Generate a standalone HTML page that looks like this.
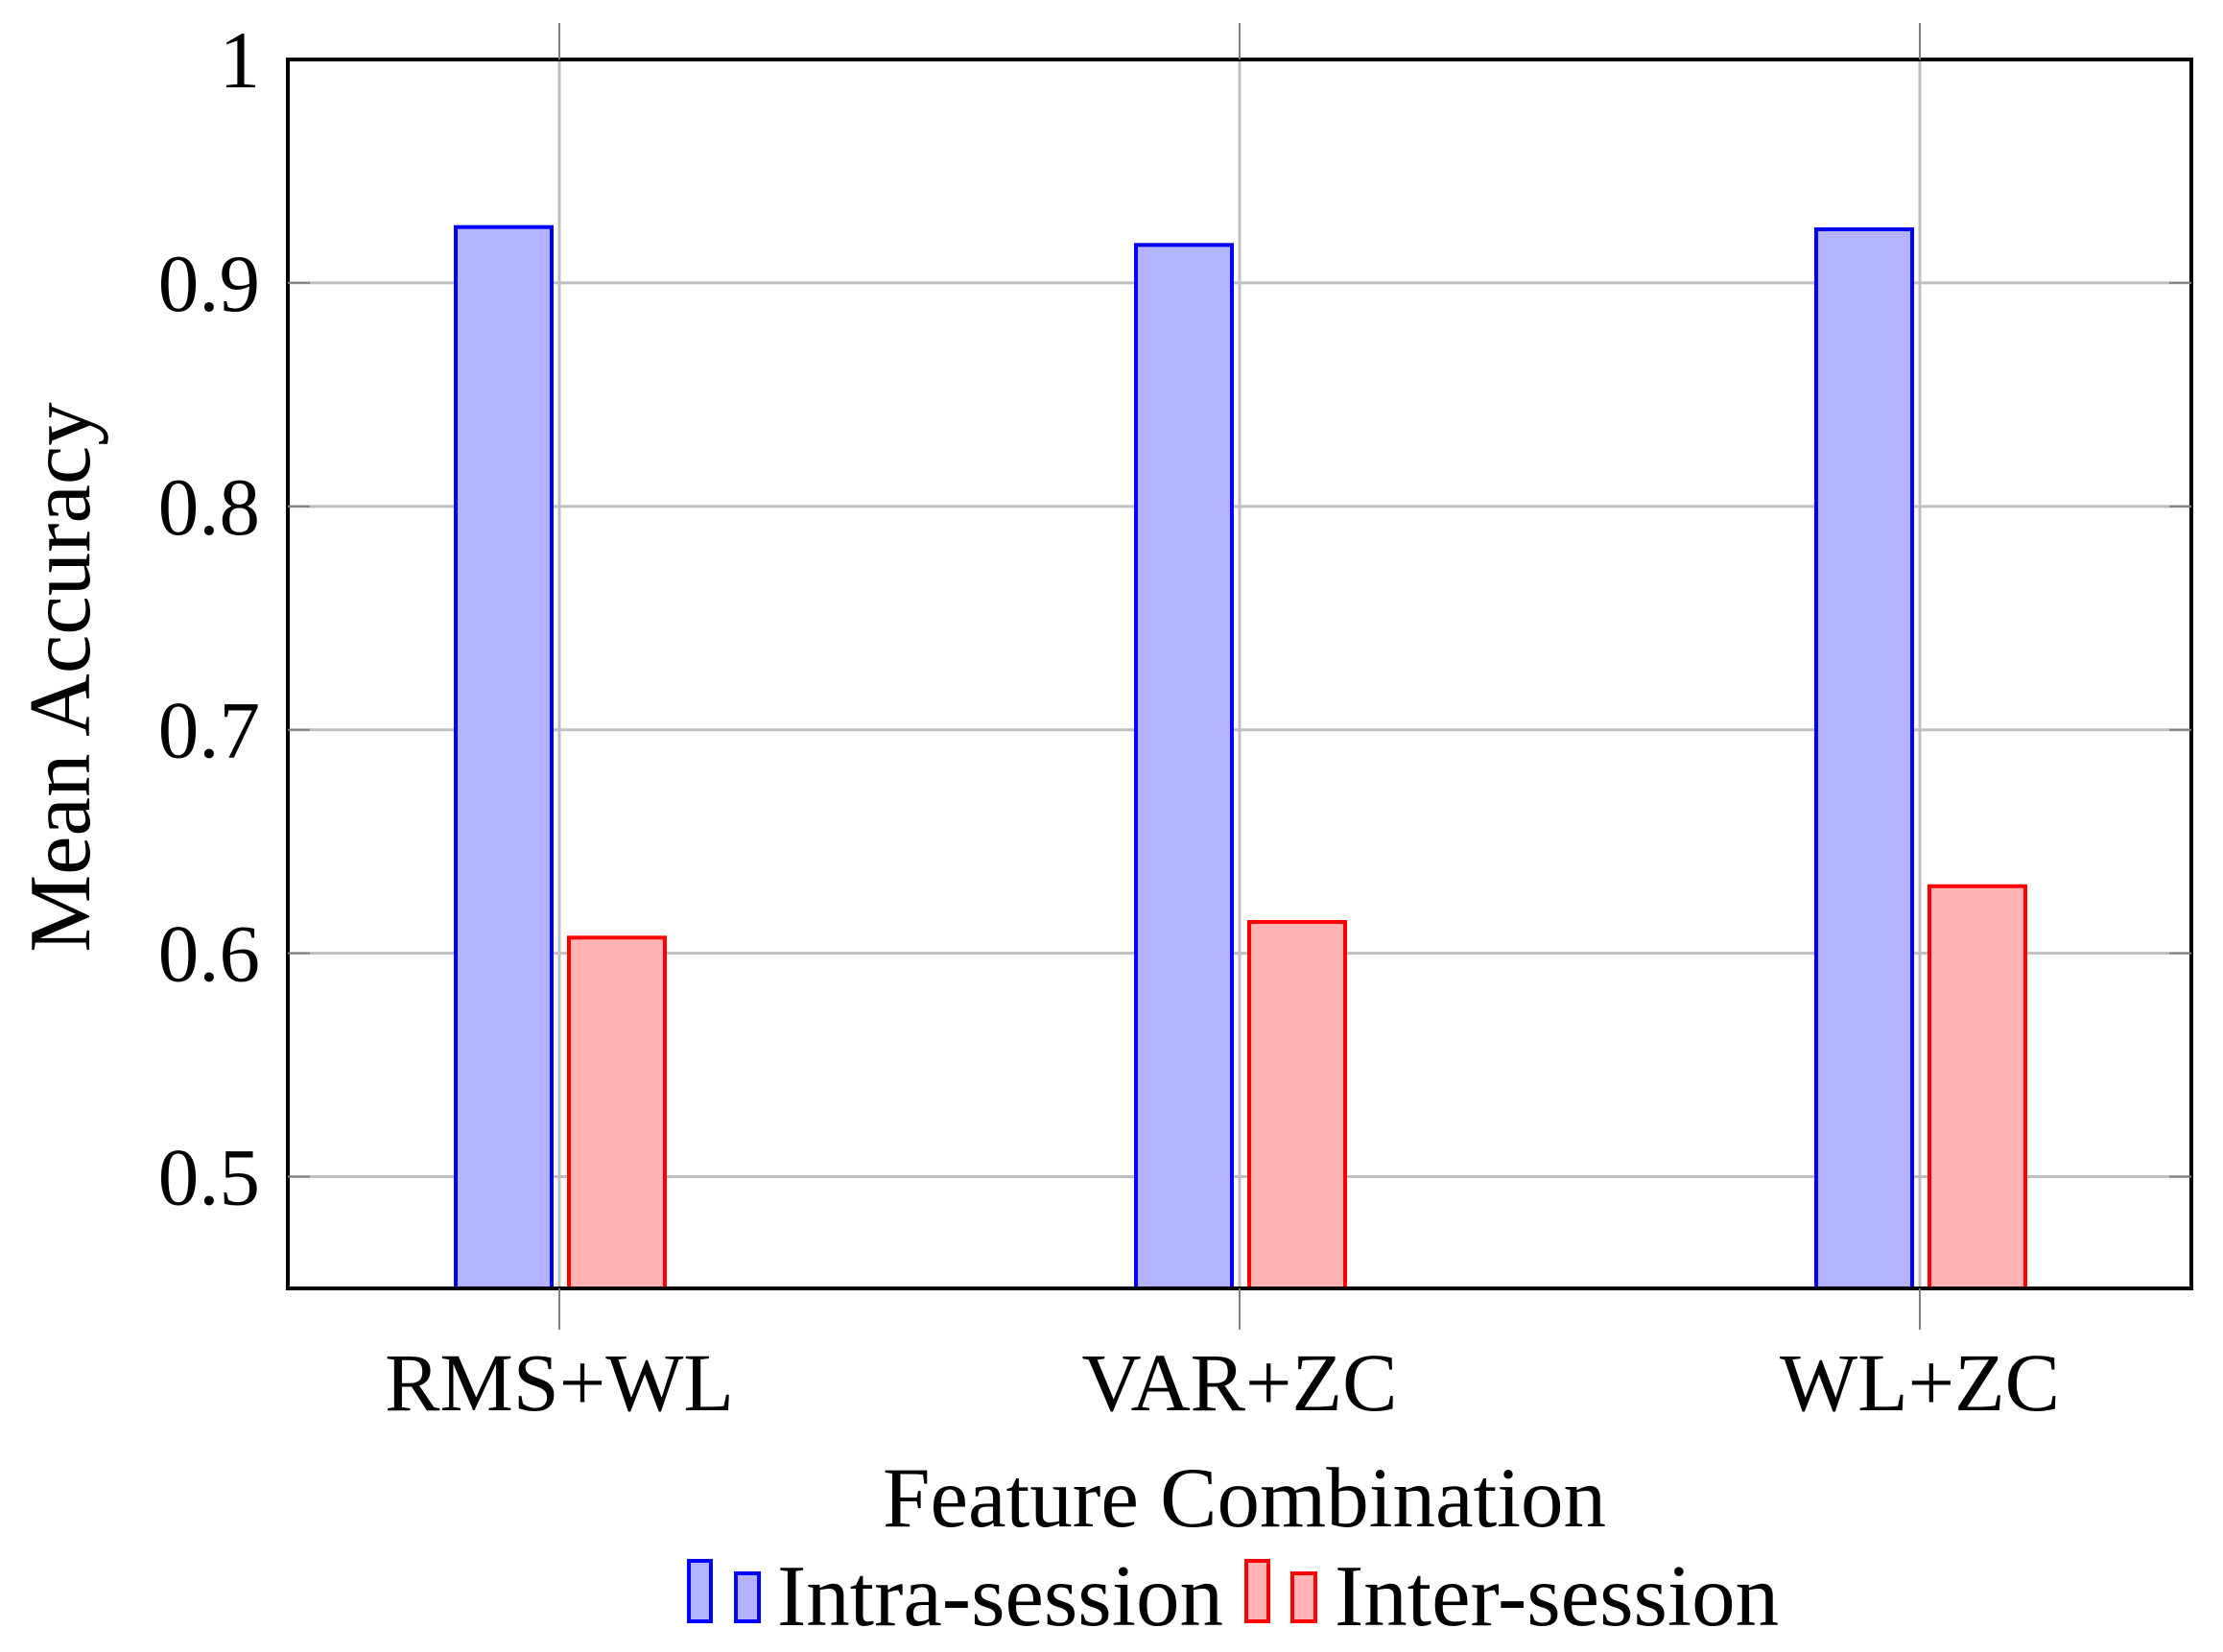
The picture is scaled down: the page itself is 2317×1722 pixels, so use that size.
<!DOCTYPE html>
<html><head><meta charset="utf-8"><style>
html,body{margin:0;padding:0;background:#fff}
svg text{font-family:"Liberation Serif",serif;fill:#000}
</style></head><body>
<svg id="chart" width="2317" height="1717" xmlns="http://www.w3.org/2000/svg">
<g id="grid"></g>
<g id="bars"></g>
<rect x="300" y="62" width="1984" height="1281" fill="none" stroke="#000" stroke-width="4"/>
<g id="yticks"></g>
<g id="xticks"></g>
<text transform="translate(93,706) rotate(-90)" text-anchor="middle" font-size="91">Mean Accuracy</text>
<text x="1297" y="1591" text-anchor="middle" font-size="89">Feature Combination</text>
<g>
<g>
<rect x="718" y="1627" width="23" height="63" fill="#b3b3ff" stroke="#00f" stroke-width="4"/>
<rect x="767" y="1640" width="24" height="50" fill="#b3b3ff" stroke="#00f" stroke-width="4"/>
<text x="810" y="1694" font-size="91">Intra-session</text>
</g>
<g>
<rect x="1299" y="1627" width="23" height="63" fill="#ffb3b3" stroke="#f00" stroke-width="4"/>
<rect x="1347" y="1640" width="24" height="50" fill="#ffb3b3" stroke="#f00" stroke-width="4"/>
<text x="1391" y="1694" font-size="91">Inter-session</text>
</g>
</g>
</svg>
<script>
const categories = ["RMS+WL", "VAR+ZC", "WL+ZC"];
const intraValues = [0.925, 0.917, 0.924];
const interValues = [0.607, 0.614, 0.630];
const yTicks = [0.5, 0.6, 0.7, 0.8, 0.9, 1];
const yTickLabels = ["0.5", "0.6", "0.7", "0.8", "0.9", "1"];

const NS = "http://www.w3.org/2000/svg";
const L = 300, R = 2284, T = 62, B = 1343, yMin = 0.45, yMax = 1;
function yS(v){ return B - (v - yMin) / (yMax - yMin) * (B - T); }
function xS(i){ return 583 + i * 709; }
function mk(tag, attrs, parent){ const e = document.createElementNS(NS, tag); for (const k in attrs) e.setAttribute(k, attrs[k]); parent.appendChild(e); return e; }
const grid = document.getElementById('grid'), bars = document.getElementById('bars');
const yt = document.getElementById('yticks'), xt = document.getElementById('xticks');

yTicks.forEach((v, i) => {
  const y = yS(v);
  if (v < 1) {
    const g = mk('line', {x1: L, x2: R, y1: y, y2: y, stroke: '#bfbfbf', 'stroke-width': 3}, grid);
    
    
    mk('line', {x1: L, x2: L + 23, y1: y, y2: y, stroke: '#808080', 'stroke-width': 2}, yt);
    mk('line', {x1: R - 23, x2: R, y1: y, y2: y, stroke: '#808080', 'stroke-width': 2}, yt);
  }
  const t = mk('text', {x: 271, y: y + 29, 'text-anchor': 'end', 'font-size': 85}, yt);
  t.textContent = yTickLabels[i];
  
  
});

categories.forEach((c, i) => {
  const x = xS(i);
  const g = mk('line', {x1: x, x2: x, y1: T, y2: B, stroke: '#bfbfbf', 'stroke-width': 3}, grid);
  
  
  mk('line', {x1: x, x2: x, y1: 24, y2: T, stroke: '#808080', 'stroke-width': 2}, xt);
  mk('line', {x1: x, x2: x, y1: B, y2: 1386, stroke: '#808080', 'stroke-width': 2}, xt);
  const t = mk('text', {x: x, y: 1470, 'text-anchor': 'middle', 'font-size': 86}, xt);
  t.textContent = c;
  
  

  const y1 = yS(intraValues[i]);
  const b1 = mk('rect', {x: x - 108, y: y1, width: 100, height: B - y1, fill: '#b3b3ff', stroke: '#00f', 'stroke-width': 4}, bars);
  
  
  const y2 = yS(interValues[i]);
  const b2 = mk('rect', {x: x + 10, y: y2, width: 100, height: B - y2, fill: '#ffb3b3', stroke: '#f00', 'stroke-width': 4}, bars);
  
  
});
</script>
</body></html>
